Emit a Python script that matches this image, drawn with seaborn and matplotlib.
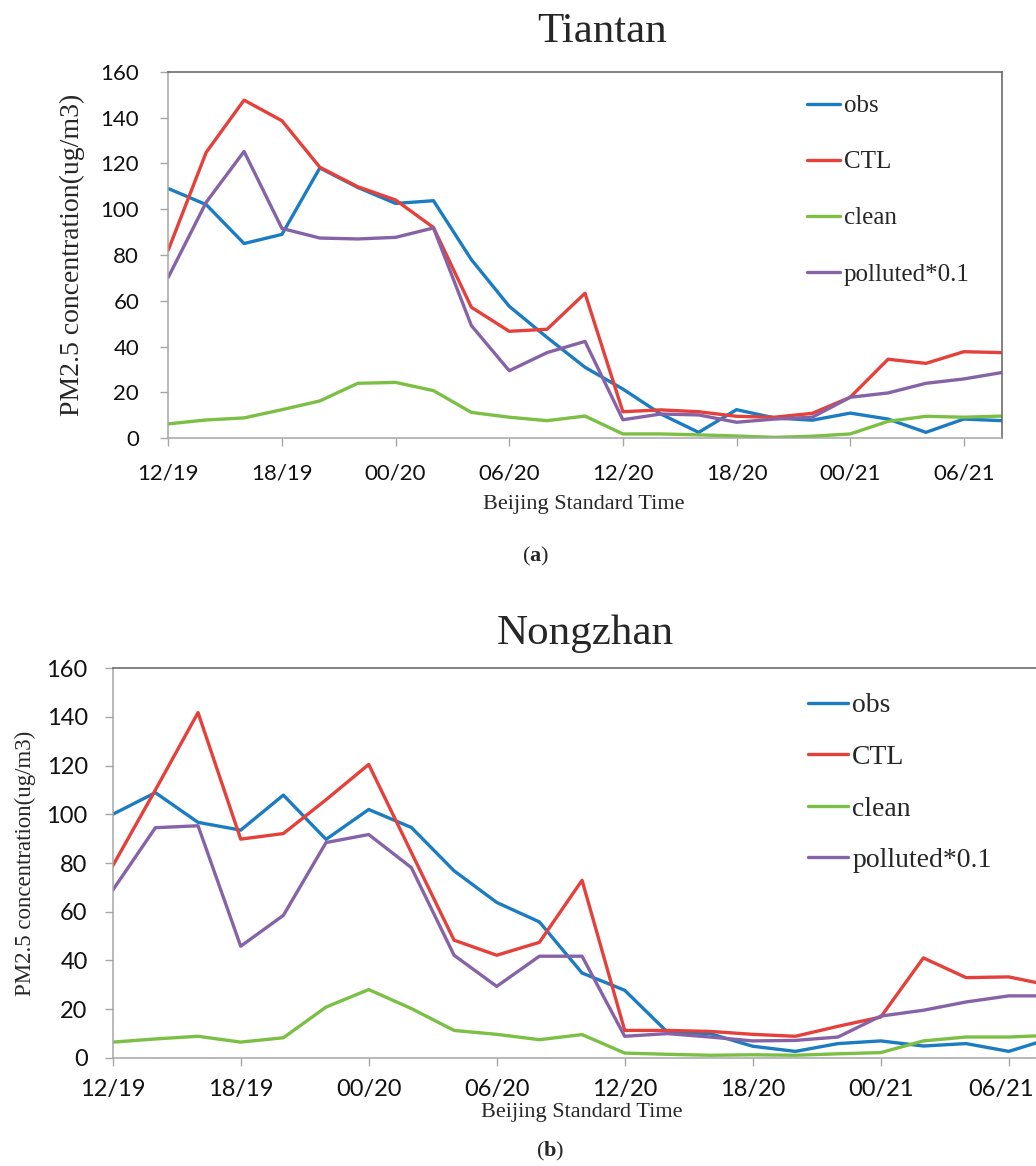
import matplotlib
matplotlib.use("Agg")
import matplotlib.pyplot as plt
import matplotlib.transforms as mtransforms
import seaborn as sns
import pandas as pd

# Hours since 12:00 on the 19th, one sample every two hours
hours = list(range(0, 46, 2))
tick_hours = [0, 6, 12, 18, 24, 30, 36, 42]
tick_labels = ["12/19", "18/19", "00/20", "06/20", "12/20", "18/20", "00/21", "06/21"]
series_names = ["obs", "CTL", "clean", "polluted*0.1"]

# Tiantan
obs_a = [109, 102, 85, 89, 118, 109.5, 102.5, 103.7, 78, 57.6, 44, 31, 21.5,
         10.6, 2.6, 12.5, 8.9, 7.9, 11, 8.4, 2.6, 8.4, 7.7]
ctl_a = [82.2, 124.8, 147.6, 138.6, 118.3, 109.8, 104, 92, 57.2, 46.7, 47.6, 63.3,
         11.6, 12.4, 11.6, 9.6, 9.2, 10.9, 17.9, 34.5, 32.7, 37.8, 37.4]
clean_a = [6.3, 8, 8.9, 12.5, 16.3, 24, 24.4, 20.8, 11.3, 9.2, 7.7, 9.7, 1.9,
           1.9, 1.5, 1.0, 0.4, 0.9, 1.9, 7.4, 9.6, 9.2, 9.7]
poll_a = [70.3, 103, 125.2, 91.6, 87.4, 87, 87.7, 91.8, 49.2, 29.5, 37.4, 42.3,
          8.1, 10.6, 10.2, 7, 8.4, 9.2, 17.9, 19.8, 24, 25.9, 28.7]

# Nongzhan
obs_b = [100, 108.9, 96.7, 93.5, 107.9, 89.7, 102, 94.6, 76.8, 63.8, 55.8, 34.8,
         27.7, 10.5, 9.9, 4.7, 2.6, 5.8, 6.9, 4.8, 5.8, 2.6, 8]
ctl_b = [78.8, 110, 141.8, 89.8, 92.1, 106, 120.5, 84.3, 48.3, 42.1, 47.4, 72.9,
         11.2, 11.2, 10.8, 9.6, 8.8, 12.9, 16.7, 41, 32.9, 33.2, 29.6]
clean_b = [6.4, 7.7, 8.8, 6.4, 8.2, 20.8, 28, 20.2, 11.2, 9.6, 7.4, 9.5, 1.9,
           1.4, 1.0, 1.2, 1.0, 1.6, 2.1, 6.9, 8.5, 8.5, 9.2]
poll_b = [68.8, 94.5, 95.3, 45.8, 58.5, 88.4, 91.7, 78.1, 42.1, 29.3, 41.7, 41.7,
          8.8, 9.9, 8.5, 6.9, 7.1, 8.5, 17.1, 19.5, 22.9, 25.4, 25.4]

palette = {"obs": "#1b7cc2", "CTL": "#e5403a", "clean": "#7cbf45", "polluted*0.1": "#8663a7"}

sns.set_style("white")
plt.rcParams["font.family"] = ["Liberation Serif", "DejaVu Serif"]
plt.rcParams["mathtext.fontset"] = "custom"
plt.rcParams["mathtext.rm"] = "Liberation Serif"
plt.rcParams["mathtext.bf"] = "Liberation Serif:bold"

W, H = 1036, 1166
fig = plt.figure(figsize=(W / 100, H / 100), dpi=100)


def long_frame(values):
    rows = []
    for name, vals in zip(series_names, values):
        for h, v in zip(hours, vals):
            rows.append({"hour": h, "value": v, "series": name})
    return pd.DataFrame(rows)


def panel(rect, values, title, title_xy, ylabel_x, ylabel_fs, xlabel_xy, tag, tag_xy,
          legend_xy, legend_fs, legend_ls, handle_len, tick_fs, tick_pad_y, tick_pad_x):
    l, t, r, b = rect
    ax = fig.add_axes([l / W, 1 - b / H, (r - l) / W, (b - t) / H])
    df = long_frame(values)
    sns.lineplot(data=df, x="hour", y="value", hue="series", hue_order=series_names,
                 palette=palette, linewidth=2.4, ax=ax, legend=True)
    ax.set_xlim(0, 44)
    ax.set_ylim(0, 160)
    ax.set_yticks(range(0, 161, 20))
    ax.set_xticks(tick_hours)
    ax.set_xticklabels(tick_labels)
    for lab in ax.get_xticklabels() + ax.get_yticklabels():
        lab.set_fontfamily("Lato")
        lab.set_fontsize(tick_fs)
        lab.set_color("#111111")
    ax.tick_params(axis="y", direction="out", length=6, width=1, color="#a6a6a6",
                   pad=tick_pad_y, left=True)
    ax.tick_params(axis="x", direction="out", length=6, width=1, color="#a6a6a6",
                   pad=tick_pad_x, bottom=True)
    for side in ("left", "bottom"):
        ax.spines[side].set_color("#a6a6a6")
        ax.spines[side].set_linewidth(1.1)
    for side in ("top", "right"):
        ax.spines[side].set_color("#606060")
        ax.spines[side].set_linewidth(1.1)

    ax.set_ylabel("PM2.5 concentration(ug/m3)", fontsize=ylabel_fs)
    ax.yaxis.set_label_coords((ylabel_x - l) / (r - l), 0.5)
    ax.yaxis.label.set_va("center")
    ax.set_xlabel("Beijing Standard Time", fontsize=16)
    ax.xaxis.set_label_coords((xlabel_xy[0] - l) / (r - l), (b - xlabel_xy[1]) / (b - t))
    ax.xaxis.label.set_va("center")

    handles, labels = ax.get_legend_handles_labels()
    ax.legend(handles, labels, loc="upper left",
              bbox_to_anchor=(legend_xy[0] / W, 1 - legend_xy[1] / H),
              bbox_transform=fig.transFigure, frameon=False, fontsize=legend_fs,
              handlelength=handle_len, handletextpad=0.15, labelspacing=legend_ls,
              borderpad=0, borderaxespad=0)

    fig.text(title_xy[0] / W, 1 - title_xy[1] / H, title, fontsize=31,
             ha="center", va="center")
    fig.text(tag_xy[0] / W, 1 - tag_xy[1] / H, r"($\mathbf{" + tag + r"}$)",
             fontsize=16, ha="center", va="center")
    return ax


panel((168.3, 71.7, 1001.7, 438.3), [obs_a, ctl_a, clean_a, poll_a], "Tiantan",
      (602, 32), 72, 20, (583.6, 505), "a", (536, 556),
      (807, 95), 18, 1.34, 1.32, 16, 15, 12)

ax_b = panel((112.7, 668.3, 1051.4, 1057.7), [obs_b, ctl_b, clean_b, poll_b], "Nongzhan",
             (585, 634), 25, 16.5, (582, 1112), "b", (550, 1151),
             (808, 693), 20, 0.94, 1.44, 17, 12, 9)

# keep the last date label of the lower panel inside the figure edge
last = ax_b.xaxis.get_major_ticks()[-1].label1
last.set_transform(last.get_transform()
                   + mtransforms.ScaledTranslation(-8 / 100, 0, fig.dpi_scale_trans))

fig.savefig("out.png", dpi=100)
